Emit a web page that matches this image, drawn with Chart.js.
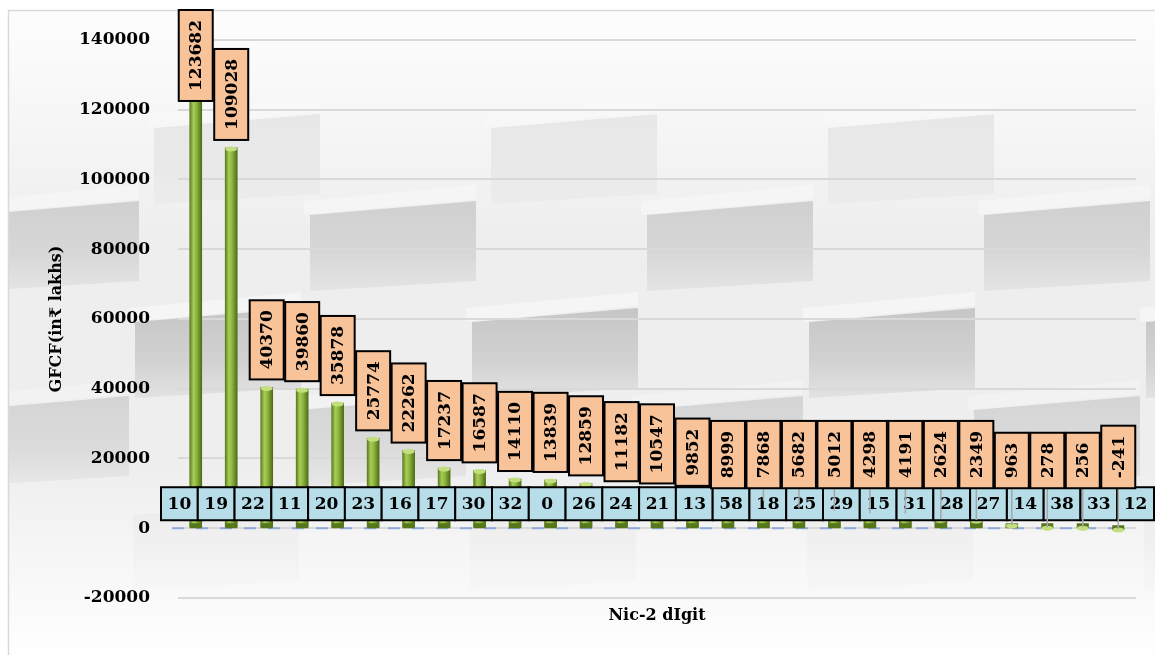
<!DOCTYPE html>
<html>
<head>
<meta charset="utf-8">
<script src="https://cdn.jsdelivr.net/npm/chart.js@4.4.1/dist/chart.umd.min.js"></script>
<style>
  html, body { margin: 0; padding: 0; background: #fff; }
  canvas { display: block; }
</style>
</head>
<body>
<canvas id="gfcfChart" width="1155" height="655"></canvas>
<script>
// NIC 2-digit industry codes, sorted by GFCF
const nicCodes = ['10', '19', '22', '11', '20', '23', '16', '17', '30', '32', '0', '26', '24', '21',
                  '13', '58', '18', '25', '29', '15', '31', '28', '27', '14', '38', '33', '12'];

// Gross fixed capital formation, in ₹ lakhs
const gfcfValues = [123682, 109028, 40370, 39860, 35878, 25774, 22262, 17237, 16587, 14110, 13839, 12859, 11182,
                    10547, 9852, 8999, 7868, 5682, 5012, 4298, 4191, 2624, 2349, 963, 278, 256, -241];

// Value axis
const yTickValues = [-20000, 0, 20000, 40000, 60000, 80000, 100000, 120000, 140000];
const yMin = -20000;
const yMax = 148000;

const yTitle = 'GFCF(in₹ lakhs)';
const xTitle = 'Nic-2 dIgit';

const SERIF = '"DejaVu Serif", "Liberation Serif", serif';

// Soft grey photo-like backdrop behind the whole chart
const backdrop = {
  id: 'backdrop',
  beforeDraw(chart) {
    const { ctx, width, height } = chart;
    const L = 8, T = 10;
    ctx.save();
    ctx.fillStyle = '#ffffff';
    ctx.fillRect(0, 0, width, height);

    const base = ctx.createLinearGradient(0, T, 0, height);
    base.addColorStop(0, '#fdfdfd');
    base.addColorStop(0.13, '#f8f8f8');
    base.addColorStop(0.35, '#eeeeee');
    base.addColorStop(0.7, '#eeeeee');
    base.addColorStop(0.86, '#f7f7f7');
    base.addColorStop(1, '#fefefe');
    ctx.fillStyle = base;
    ctx.fillRect(L, T, width - L, height - T);

    ctx.beginPath();
    ctx.rect(L, T, width - L, height - T);
    ctx.clip();

    const rows = [
      { y: 118, x0: 491, a: 0.35 },
      { y: 205, x0: 310, a: 0.8 },
      { y: 312, x0: 472, a: 1.0 },
      { y: 400, x0: 300, a: 0.65 },
      { y: 505, x0: 470, a: 0.15 }
    ];
    const period = 337, bw = 166, bh = 86;
    rows.forEach(r => {
      for (let x = r.x0 - period * 3; x < width + period; x += period) {
        const g = ctx.createLinearGradient(0, r.y - 4, 0, r.y + bh);
        g.addColorStop(0, `rgba(105,105,105,${0.30 * r.a})`);
        g.addColorStop(0.6, `rgba(120,120,120,${0.24 * r.a})`);
        g.addColorStop(1, `rgba(150,150,150,${0.14 * r.a})`);
        ctx.beginPath();
        ctx.moveTo(x, r.y + 10);
        ctx.lineTo(x + bw, r.y - 4);
        ctx.lineTo(x + bw, r.y + bh - 10);
        ctx.lineTo(x, r.y + bh);
        ctx.closePath();
        ctx.fillStyle = g;
        ctx.fill();
        // lit band just above the front face
        ctx.beginPath();
        ctx.moveTo(x - 6, r.y + 10);
        ctx.lineTo(x + bw, r.y - 6);
        ctx.lineTo(x + bw, r.y - 20);
        ctx.lineTo(x - 6, r.y - 4);
        ctx.closePath();
        ctx.fillStyle = `rgba(255,255,255,${0.4 * r.a})`;
        ctx.fill();
      }
    });
    ctx.restore();

    ctx.save();
    ctx.strokeStyle = '#d9d9d9';
    ctx.lineWidth = 1.5;
    ctx.beginPath();
    ctx.moveTo(L + 0.5, height);
    ctx.lineTo(L + 0.5, T + 0.5);
    ctx.lineTo(width, T + 0.5);
    ctx.stroke();
    ctx.restore();
  }
};

// Dashed horizontal axis at zero
const zeroLine = {
  id: 'zeroLine',
  beforeDatasetsDraw(chart) {
    const { ctx, chartArea } = chart;
    const y0 = chart.scales.y.getPixelForValue(0);
    ctx.save();
    ctx.strokeStyle = '#8eaadb';
    ctx.lineWidth = 2;
    ctx.setLineDash([12, 12]);
    ctx.beginPath();
    ctx.moveTo(chartArea.left - 6, y0);
    ctx.lineTo(chartArea.right - 8, y0);
    ctx.stroke();
    ctx.restore();
  }
};

// Cylinder caps on each bar
const cylinderCaps = {
  id: 'cylinderCaps',
  afterDatasetsDraw(chart) {
    const { ctx } = chart;
    const meta = chart.getDatasetMeta(0);
    ctx.save();
    meta.data.forEach(bar => {
      const w = bar.width / 2;
      ctx.fillStyle = '#56761c';
      ctx.fillRect(bar.x - w, bar.base - 4, w * 2, 5);
      ctx.beginPath();
      ctx.ellipse(bar.x, Math.min(bar.y, bar.base) + 1, w, 2.5, 0, 0, Math.PI * 2);
      ctx.fillStyle = '#c3de7e';
      ctx.fill();
    });
    ctx.restore();
  }
};

// Value-axis title beside the tick labels
const axisTitle = {
  id: 'axisTitle',
  afterDraw(chart) {
    const { ctx, chartArea } = chart;
    const cy = (chartArea.top + chartArea.bottom) / 2 + 14;
    ctx.save();
    ctx.translate(57, cy);
    ctx.rotate(-Math.PI / 2);
    ctx.font = `bold 16px ${SERIF}`;
    ctx.fillStyle = '#000';
    ctx.textAlign = 'center';
    ctx.textBaseline = 'middle';
    ctx.fillText(yTitle, 0, 0);
    ctx.restore();
  }
};

// Category boxes along the base and value boxes above each bar
const boxLabels = {
  id: 'boxLabels',
  afterDraw(chart) {
    const { ctx, chartArea, width } = chart;
    const yScale = chart.scales.y;
    const meta = chart.getDatasetMeta(0);
    const y0 = yScale.getPixelForValue(0);
    const n = nicCodes.length;

    ctx.save();
    ctx.font = `bold 17px ${SERIF}`;
    ctx.textAlign = 'center';
    ctx.textBaseline = 'middle';

    const rowLeft = chartArea.left - 17;
    const rowRight = width - 1;
    const cw = (rowRight - rowLeft) / n;
    const rowTop = y0 - 41, rowH = 33;
    nicCodes.forEach((code, i) => {
      const bx = rowLeft + i * cw;
      ctx.fillStyle = '#b7dee8';
      ctx.fillRect(bx, rowTop, cw, rowH);
      ctx.lineWidth = 2;
      ctx.strokeStyle = '#000';
      ctx.strokeRect(bx, rowTop, cw, rowH);
      ctx.fillStyle = '#000';
      ctx.fillText(code, bx + cw / 2, rowTop + rowH / 2 + 1);
    });

    const boxes = gfcfValues.map((v, i) => {
      const bar = meta.data[i];
      const text = String(v);
      const tw = ctx.measureText(text).width;
      const h = tw + 20, w = 34;
      const barTop = yScale.getPixelForValue(v);
      let bottom = Math.min(barTop - 8, rowTop + 1);
      let top = bottom - h;
      if (top < 10) { top = 10; bottom = top + h; }
      return { x: bar.x, top, bottom, w, h, text, barTop };
    });

    ctx.strokeStyle = '#a6a6a6';
    ctx.lineWidth = 1.5;
    boxes.forEach(b => {
      if (b.barTop - b.bottom > 10) {
        ctx.beginPath();
        ctx.moveTo(b.x, b.bottom);
        ctx.lineTo(b.x, b.barTop);
        ctx.stroke();
      }
    });

    boxes.forEach(b => {
      ctx.fillStyle = '#f9c39a';
      ctx.fillRect(b.x - b.w / 2, b.top, b.w, b.h);
      ctx.lineWidth = 2;
      ctx.strokeStyle = '#000';
      ctx.strokeRect(b.x - b.w / 2, b.top, b.w, b.h);
      ctx.save();
      ctx.translate(b.x + 1, b.top + b.h / 2);
      ctx.rotate(-Math.PI / 2);
      ctx.fillStyle = '#000';
      ctx.fillText(b.text, 0, 0);
      ctx.restore();
    });
    ctx.restore();
  }
};

function barFill(context) {
  const chart = context.chart;
  if (!chart.chartArea || context.type !== 'data') return '#8db53b';
  const x = chart.scales.x.getPixelForValue(context.dataIndex);
  const g = chart.ctx.createLinearGradient(x - 6, 0, x + 6, 0);
  g.addColorStop(0, '#5c7d1e');
  g.addColorStop(0.3, '#a8cc58');
  g.addColorStop(0.55, '#90b840');
  g.addColorStop(1, '#4e6d16');
  return g;
}

new Chart(document.getElementById('gfcfChart'), {
  type: 'bar',
  data: {
    labels: nicCodes,
    datasets: [{
      label: 'GFCF',
      data: gfcfValues,
      backgroundColor: barFill,
      borderWidth: 0,
      barThickness: 12
    }]
  },
  options: {
    responsive: false,
    animation: false,
    layout: { padding: { left: 40, top: 12, right: 19, bottom: 0 } },
    plugins: {
      legend: { display: false },
      tooltip: { enabled: false }
    },
    scales: {
      x: {
        grid: { display: false },
        border: { display: false },
        ticks: { display: false },
        title: {
          display: true,
          text: xTitle,
          color: '#000',
          font: { family: SERIF, size: 16, weight: 'bold' },
          padding: { top: 0, bottom: 30 }
        },
        afterFit(scale) { scale.height = 57; }
      },
      y: {
        min: yMin,
        max: yMax,
        afterBuildTicks(scale) { scale.ticks = yTickValues.map(v => ({ value: v })); },
        grid: { color: '#d9d9d9', lineWidth: 2, drawTicks: false },
        border: { display: false },
        ticks: {
          padding: 28,
          color: '#000',
          font: { family: SERIF, size: 17, weight: 'bold' },
          callback: v => String(v)
        },
        afterFit(scale) {
          scale.width = 138;
          scale.paddingTop = 0;
          scale.paddingBottom = 0;
        }
      }
    }
  },
  plugins: [backdrop, zeroLine, cylinderCaps, axisTitle, boxLabels]
});
</script>
</body>
</html>
